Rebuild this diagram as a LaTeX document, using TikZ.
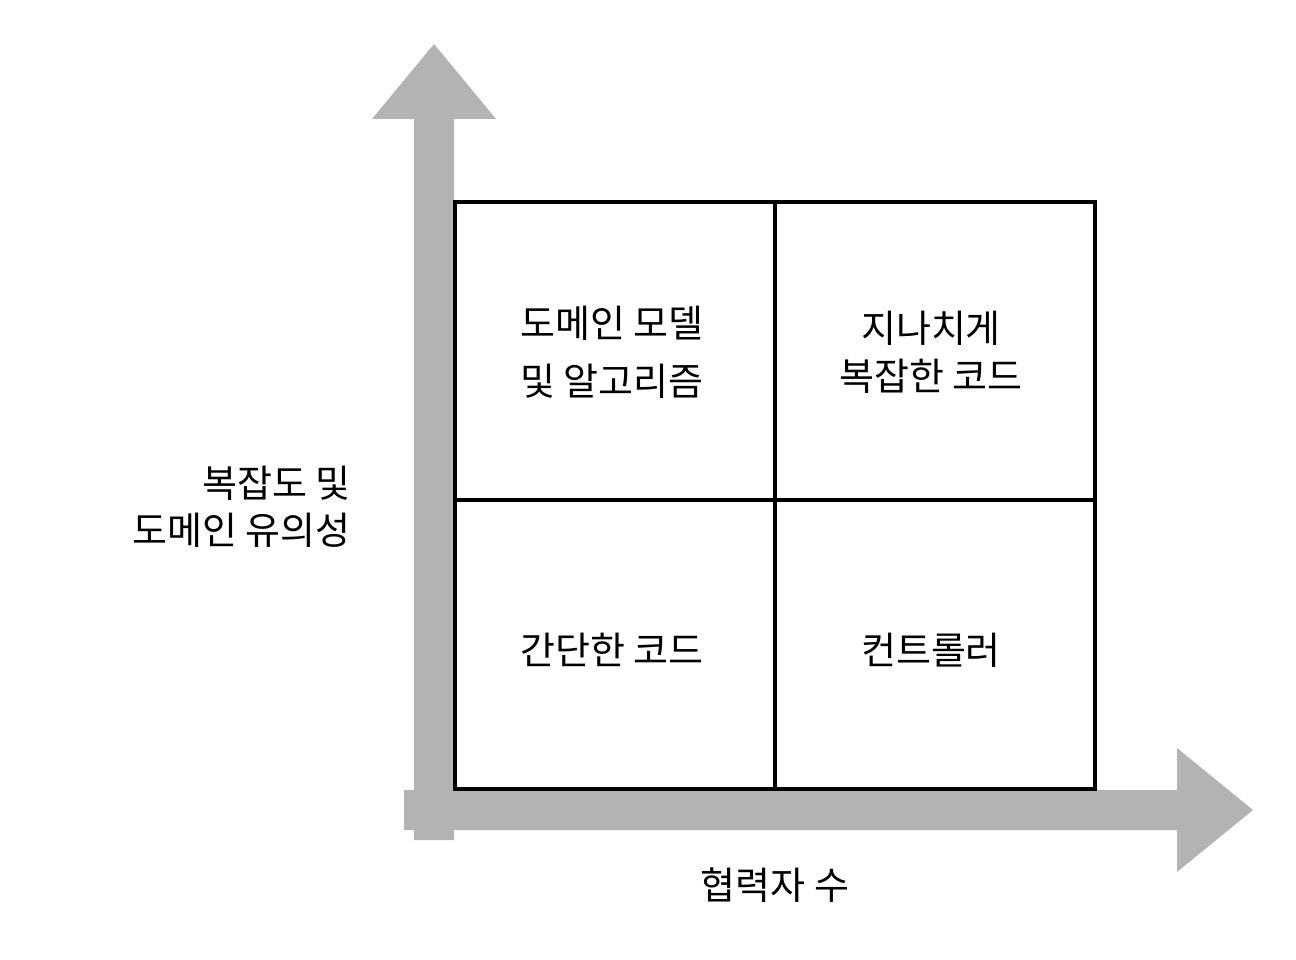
\documentclass[tikz,border=0pt]{standalone}
\usepackage{fontspec}
\newfontfamily\kr{Noto Sans CJK KR}
\definecolor{axisgray}{RGB}{179,179,179}
\tikzset{
  axisarrow/.style={fill=axisgray, draw=none},
  gridline/.style={line width=4pt, black},
  label/.style={font=\kr\fontsize{38}{46}\selectfont, inner sep=0pt, text=black},
}
\begin{document}
\begin{tikzpicture}[x=1pt,y=-1pt]
\useasboundingbox (0,0) rectangle (1296,960);
% vertical axis arrow
\fill[axisarrow] (414,840) -- (414,119) -- (372,119) -- (434,44) -- (496,119) -- (454,119) -- (454,840) -- cycle;
% horizontal axis arrow
\fill[axisarrow] (404,790) -- (1177,790) -- (1177,748) -- (1253,810) -- (1177,872) -- (1177,830) -- (404,830) -- cycle;
% grid
\coordinate (tl) at (455.3,202);
\coordinate (br) at (1095,788.5);
\coordinate (mt) at (774.7,202);
\coordinate (mb) at (774.7,788.5);
\coordinate (ml) at (455.3,500.3);
\coordinate (mr) at (1095,500.3);
\draw[gridline] (tl) rectangle (br);
\draw[gridline] (mt) -- (mb);
\draw[gridline] (ml) -- (mr);
% cell labels
\node[label] (a1) at (612,323) {도메인 모델};
\node[label] (a2) at (612,381.5) {및 알고리즘};
\node[label] (b1) at (931,328) {지나치게};
\node[label] (b2) at (931,376) {복잡한 코드};
\node[label] (c1) at (612,650) {간단한 코드};
\node[label] (d1) at (931,650) {컨트롤러};
% axis labels
\node[label, anchor=east] (y1) at (351,483) {복잡도 및};
\node[label, anchor=east] (y2) at (351,530) {도메인 유의성};
\node[label] (x1) at (775,885) {협력자 수};
\end{tikzpicture}
\end{document}
